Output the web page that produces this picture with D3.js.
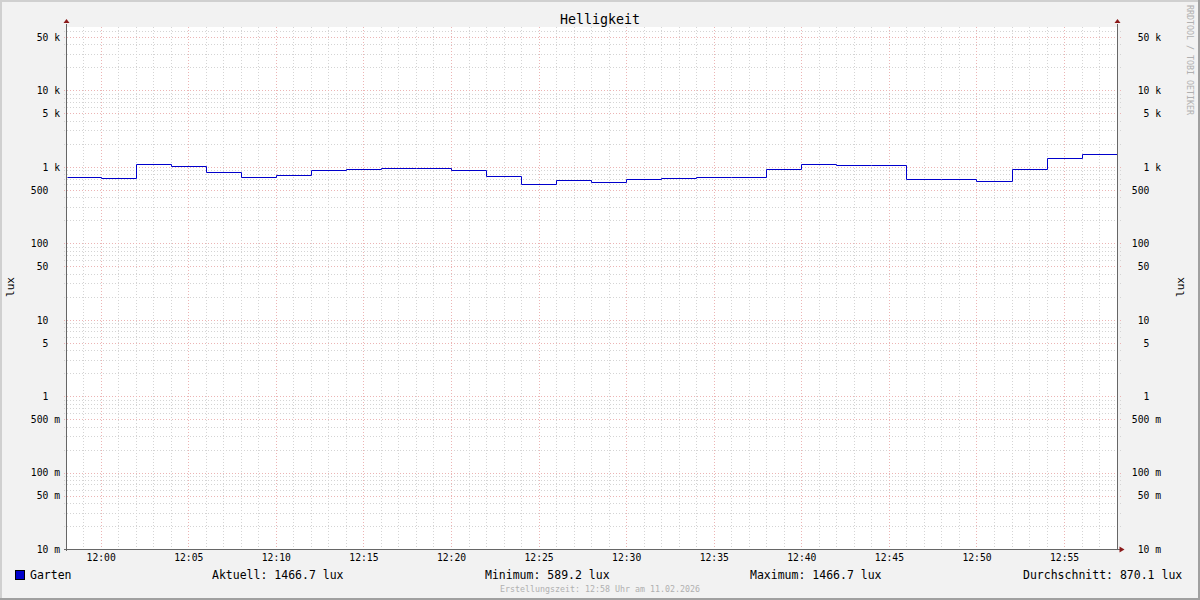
<!DOCTYPE html>
<html><head><meta charset="utf-8">
<script src="https://cdn.jsdelivr.net/npm/d3@7"></script>
<style>
html,body{margin:0;padding:0;background:#f2f2f2;}
svg{display:block;}
text{font-family:"DejaVu Sans Mono",monospace;white-space:pre;}
</style></head><body>
<svg id="c" width="1200" height="600"></svg>
<script>
// ---- data ----
const title = "Helligkeit";
const yLabel = "lux";
const seriesName = "Garten";
// start time of each 2-minute step (hh:mm) and its value in lux
const stepTimes = ["11:58","12:00","12:02","12:04","12:06","12:08","12:10","12:12","12:14","12:16",
  "12:18","12:20","12:22","12:24","12:26","12:28","12:30","12:32","12:34","12:36",
  "12:38","12:40","12:42","12:44","12:46","12:48","12:50","12:52","12:54","12:56"];
const stepValues = [735,712,1076,1014,846,727,780,898,926,955,
  955,906,757,589.2,665,627,686,712,735,735,
  944,1076,1054,1054,686,686,646,926,1289,1466.7];
const xTickLabels = ["12:00","12:05","12:10","12:15","12:20","12:25","12:30","12:35","12:40","12:45","12:50","12:55"];
const yTickValues = [0.01,0.05,0.1,0.5,1,5,10,50,100,500,1000,5000,10000,50000];
const yTickLabels = ["10 m","50 m","100 m","500 m","1  ","5  ","10  ","50  ","100  ","500  ","1 k","5 k","10 k","50 k"];
const legendItems = ["Aktuell: 1466.7 lux","Minimum: 589.2 lux","Maximum: 1466.7 lux","Durchschnitt: 870.1 lux"];
const footer = "Erstellungszeit: 12:58 Uhr am 11.02.2026";
const watermark = "RRDTOOL / TOBI OETIKER";

// ---- layout ----
const W=1200,H=600;
const L=66.5,R=1117.5,T=27,B=549;
const svg=d3.select("#c");
const pt=s=>{const [h,m]=s.split(":").map(Number);return new Date(2026,1,11,h,m,0);};
const t0=new Date(2026,1,11,11,58,3), t1=new Date(2026,1,11,12,58,3);
const x=d3.scaleTime().domain([t0,t1]).range([L,R]);
const yDecade=76.45;
const yMin=0.01, yMax=Math.pow(10,(B-T)/yDecade-2);
const y=d3.scaleLog().domain([yMin,yMax]).range([B,T]);

// background frame
svg.append("rect").attr("x",0).attr("y",0).attr("width",W).attr("height",H).attr("fill","#f2f2f2");
svg.append("rect").attr("x",0).attr("y",0).attr("width",W).attr("height",2).attr("fill","#d0d0d0");
svg.append("rect").attr("x",0).attr("y",0).attr("width",2).attr("height",H).attr("fill","#d0d0d0");
svg.append("rect").attr("x",0).attr("y",H-2).attr("width",W).attr("height",2).attr("fill","#a0a0a0");
svg.append("rect").attr("x",W-2).attr("y",0).attr("width",2).attr("height",H).attr("fill","#a0a0a0");
// plot canvas
svg.append("rect").attr("x",L).attr("y",T).attr("width",R-L).attr("height",B-T).attr("fill","#fff");

const grid=svg.append("g").attr("shape-rendering","crispEdges");
const minorCol="#d4d4d4", majorCol="#ecb4b4", dash="1,2";
// horizontal grid: minor (2..9) and major (1,5)
const hMinor=[],hMajor=[];
for(let e=-2;e<=4;e++){for(let k=1;k<=9;k++){const v=k*Math.pow(10,e);if(v<yMin-1e-9||v>yMax)continue;
  if(k===1||k===5)hMajor.push(v);else hMinor.push(v);}}
grid.selectAll(".hm").data(hMinor).enter().append("line")
  .attr("x1",L-3).attr("x2",R+3).attr("y1",d=>Math.round(y(d))+0.5).attr("y2",d=>Math.round(y(d))+0.5)
  .attr("stroke",minorCol).attr("stroke-dasharray",dash);
// vertical grid: minutes
const minutes=d3.timeMinute.range(d3.timeMinute.ceil(t0),t1);
const vMinor=minutes.filter(d=>d.getMinutes()%5!==0), vMajor=minutes.filter(d=>d.getMinutes()%5===0);
grid.selectAll(".vm").data(vMinor).enter().append("line")
  .attr("y1",T).attr("y2",B+2).attr("x1",d=>Math.round(x(d))+0.5).attr("x2",d=>Math.round(x(d))+0.5)
  .attr("stroke",minorCol).attr("stroke-dasharray",dash);
grid.selectAll(".hM").data(hMajor).enter().append("line")
  .attr("x1",L-3).attr("x2",R+3).attr("y1",d=>Math.round(y(d))+0.5).attr("y2",d=>Math.round(y(d))+0.5)
  .attr("stroke",majorCol).attr("stroke-dasharray",dash);
grid.selectAll(".vM").data(vMajor).enter().append("line")
  .attr("y1",T).attr("y2",B+3).attr("x1",d=>Math.round(x(d))+0.5).attr("x2",d=>Math.round(x(d))+0.5)
  .attr("stroke",majorCol).attr("stroke-dasharray",dash);

// data line (step)
const pts=stepTimes.map((t,i)=>({t:pt(t),v:stepValues[i]}));
pts[0].t=t0;
pts.push({t:t1,v:stepValues[stepValues.length-1]});
svg.append("defs").append("clipPath").attr("id","clip").append("rect")
  .attr("x",L).attr("y",T).attr("width",R-L).attr("height",B-T);
const line=d3.line().curve(d3.curveStepAfter).x(d=>Math.round(x(d.t))+0.5).y(d=>Math.round(y(d.v))+0.5);
svg.append("path").datum(pts).attr("d",line).attr("fill","none").attr("stroke","#0000cc")
  .attr("stroke-width",1).attr("clip-path","url(#clip)");

// axes lines
const ax=svg.append("g").attr("shape-rendering","crispEdges");
ax.append("line").attr("x1",L).attr("x2",L).attr("y1",T-3).attr("y2",B+2).attr("stroke","#666");
ax.append("line").attr("x1",R).attr("x2",R).attr("y1",T-3).attr("y2",B+1).attr("stroke","#666");
ax.append("line").attr("x1",L-3).attr("x2",R+3).attr("y1",B+0.5).attr("y2",B+0.5).attr("stroke","#666");
// arrows
const arrowCol="#8b1a1a";
[L,R].forEach(xx=>svg.append("path").attr("d",`M${xx-3},${T-4} L${xx+3},${T-4} L${xx},${T-8} Z`).attr("fill",arrowCol));
svg.append("path").attr("d",`M${R+2},${B-2.5} L${R+2},${B+3.5} L${R+7},${B+0.5} Z`).attr("fill",arrowCol);

// y-axis tick labels (left and right) via axis generators
const yAxisL=d3.axisLeft(y).tickValues(yTickValues).tickFormat((d,i)=>yTickLabels[i]).tickSize(0).tickPadding(0);
const gl=svg.append("g").attr("transform",`translate(60,0)`).call(yAxisL);
gl.select(".domain").remove();
gl.selectAll("text").attr("font-family","DejaVu Sans Mono").attr("font-size","9.7px").attr("fill","#000").attr("dy","0.35em");
const yAxisR=d3.axisLeft(y).tickValues(yTickValues).tickFormat((d,i)=>yTickLabels[i]).tickSize(0).tickPadding(0);
const gr=svg.append("g").attr("transform",`translate(1161,0)`).call(yAxisR);
gr.select(".domain").remove();
gr.selectAll("text").attr("font-family","DejaVu Sans Mono").attr("font-size","9.7px").attr("fill","#000").attr("dy","0.35em");

// x-axis labels
const xAxis=d3.axisBottom(x).tickValues(xTickLabels.map(pt)).tickFormat((d,i)=>xTickLabels[i]).tickSize(0).tickPadding(0);
const gx=svg.append("g").attr("transform",`translate(0,554)`).call(xAxis);
gx.select(".domain").remove();
gx.selectAll("text").attr("font-family","DejaVu Sans Mono").attr("font-size","9.7px").attr("fill","#000").attr("dy","0.72em");

// title
svg.append("text").attr("x",600).attr("y",24).attr("text-anchor","middle").attr("font-size","13.3px").attr("fill","#000").text(title);
// y labels
svg.append("text").attr("transform","translate(14,287) rotate(-90)").attr("text-anchor","middle").attr("font-size","11px").text(yLabel);
svg.append("text").attr("transform","translate(1184,287) rotate(-90)").attr("text-anchor","middle").attr("font-size","11px").text(yLabel);
// watermark
svg.append("text").attr("transform","translate(1187,5) rotate(90)").attr("text-anchor","start").attr("font-size","8.3px").attr("fill","#b0b0b0").text(watermark);

// legend
svg.append("rect").attr("x",15.5).attr("y",570.5).attr("width",9).attr("height",9).attr("fill","#0000cc").attr("stroke","#000").attr("stroke-width",1);
svg.append("text").attr("x",30).attr("y",579).attr("font-size","11.5px").text(seriesName);
const legX=[212,485,750,1023];
legendItems.forEach((s,i)=>svg.append("text").attr("x",legX[i]).attr("y",579).attr("font-size","11.5px").text(s));
// footer
svg.append("text").attr("x",600).attr("y",592).attr("text-anchor","middle").attr("font-size","8.3px").attr("fill","#b0b0b0").text(footer);
</script></body></html>
